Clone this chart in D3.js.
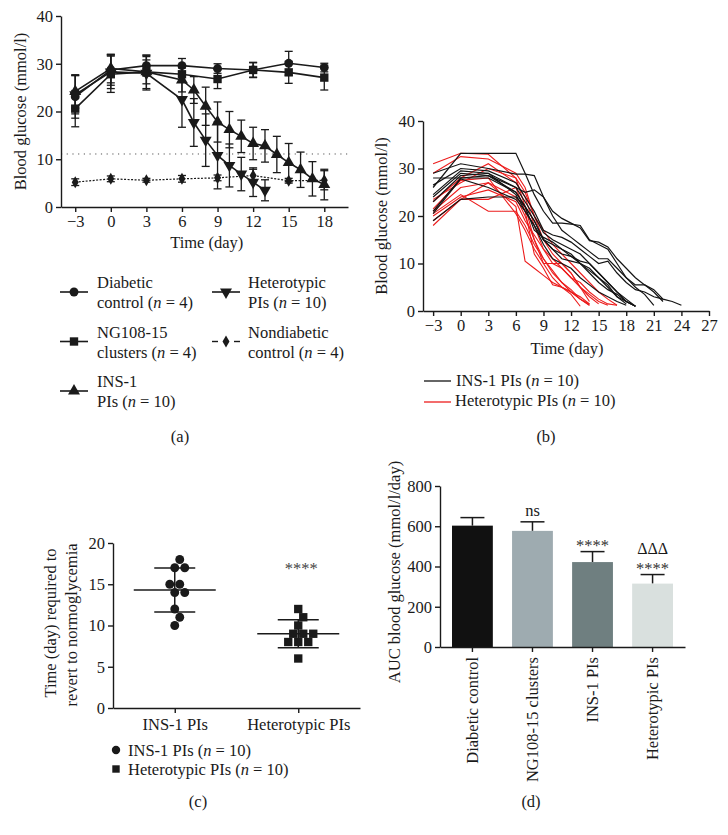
<!DOCTYPE html>
<html><head><meta charset="utf-8">
<script src="https://cdn.jsdelivr.net/npm/d3@7"></script>
<style>
body{margin:0;background:#fff;}
svg{display:block;font-family:"Liberation Serif","Times New Roman",serif;}
</style></head><body>
<svg id="fig" width="728" height="835"></svg>
<script>
// ---------------- DATA ----------------
// Panel (a): mean ± SD blood glucose
const daysCtrl = [-3, 0, 3, 6, 9, 12, 15, 18];
const diabeticMean = [23.1, 28.7, 29.6, 29.6, 29.0, 28.7, 30.1, 29.2];
const diabeticSD   = [4.5, 3.2, 2.2, 1.5, 1.0, 1.5, 2.5, 0.9];
const ngMean = [20.6, 27.8, 28.3, 27.8, 26.8, 28.7, 28.2, 27.1];
const ngSD   = [3.8, 3.8, 3.5, 1.5, 2.0, 1.6, 2.3, 2.6];
const nondiabeticMean = [5.2, 5.9, 5.6, 5.9, 6.1, 6.6, 5.5, 5.6];
const nondiabeticSD   = [0.7, 0.6, 0.4, 0.7, 0.6, 1.3, 0.5, 2.0];
const daysIns = [-3, 0, 3, 6, 7, 8, 9, 10, 11, 12, 13, 14, 15, 16, 17, 18];
const insMean = [24.2, 29.0, 28.3, 26.6, 24.5, 21.1, 17.8, 16.2, 14.8, 13.3, 12.8, 11.0, 9.3, 7.8, 5.9, 4.7];
const insSD   = [3.5, 3.0, 2.5, 2.5, 2.8, 4.0, 4.2, 3.8, 3.4, 3.4, 3.4, 3.8, 4.0, 3.7, 3.6, 3.2];
const daysHet = [-3, 0, 3, 6, 7, 8, 9, 10, 11, 12, 13];
const hetMean = [23.5, 28.3, 28.0, 22.5, 17.7, 14.0, 10.8, 8.7, 6.9, 5.2, 3.5];
const hetSD   = [4.0, 3.5, 3.5, 5.8, 5.0, 5.5, 7.0, 4.5, 3.5, 3.0, 2.2];
const normoThreshold = 11.1;
const xTicksA = [-3, 0, 3, 6, 9, 12, 15, 18];
const yTicksA = [0, 10, 20, 30, 40];

// Panel (b): individual animals (values on dayGridB, truncated when finished)
const dayGridB = [-3, 0, 3, 6, 7, 8, 9, 10, 11, 12, 13, 14, 15, 16, 17, 18, 19, 20, 21, 22, 23, 24];
const insIndividuals = [
  [26, 33.2, 33.2, 33.2, 29, 24.5, 21, 18.5, 18.5, 18.3, 18, 15, 14, 13, 10, 7, 5, 3.5, 1.2],
  [29, 31, 30, 28.8, 28.8, 28.5, 24, 21, 19.5, 18.5, 17.5, 14.8, 14.5, 13.5, 11, 9, 7, 5.5, 4.5, 2.5, 2, 1.2],
  [28, 28, 28.5, 26, 25, 25.5, 24, 20, 17, 15.5, 14, 12.5, 11, 11, 9, 7, 5.5, 5.5, 4, 2],
  [26.5, 30, 29.5, 27, 24, 21, 17, 16, 15.5, 14.5, 13, 11.5, 10, 10.5, 8, 6, 4.5, 4, 3, 2.5],
  [24.5, 29.5, 29, 26, 23, 20, 16.5, 15, 14, 13, 12, 10, 8, 6, 4, 2.5, 1],
  [24, 29, 28.5, 25, 22, 19, 15, 14, 13, 11.5, 10.5, 10, 8, 6, 4, 2, 1],
  [23, 28.5, 29, 24.5, 21, 18, 15, 13, 11, 10.5, 10, 9, 7, 5.5, 3, 1.5],
  [21, 28, 28, 25, 22, 17, 15.5, 14.5, 13, 12, 10, 8, 6, 4.5, 3.5, 2, 1],
  [20.5, 27.8, 26, 23.5, 21, 18, 14, 11, 10, 9, 7, 5.5, 4, 3, 2, 1.2],
  [19, 23.5, 24, 24, 22, 19, 15, 13, 12, 11.5, 10, 8.5, 7, 5, 3, 2, 1]
];
const hetIndividuals = [
  [31, 33.2, 33, 28, 22, 15, 11, 8, 6, 4, 3, 1.5],
  [29, 32.5, 32, 29, 26, 20, 15, 12, 10, 8, 5, 3.5, 2, 1.2],
  [23, 28, 31, 27, 24, 18, 13, 10, 9, 7, 6, 4, 2.5, 1.5, 1.2],
  [21.5, 27.5, 28, 20.5, 17, 13, 10, 10, 10, 8, 5, 2],
  [21, 26, 27, 22, 10.5, 9, 7.5, 6, 5, 3.5, 1],
  [20.5, 24.5, 21, 21, 18, 14, 11, 8.5, 6, 4.5, 2.5, 1.2],
  [20, 24, 25.5, 23, 19, 16, 13, 11, 9, 7, 5, 3, 1.5],
  [19, 23.5, 27, 24, 20, 15, 10, 7, 5, 4, 2.5, 1.2],
  [18, 23.5, 23.5, 26, 21, 12, 9, 5.5, 5, 4, 2.5, 1.5],
  [23.5, 27, 30, 28, 25, 20, 17, 14, 12, 10, 8, 6, 4, 2.5, 1.2]
];
const xTicksB = [-3, 0, 3, 6, 9, 12, 15, 18, 21, 24, 27];
const yTicksB = [0, 10, 20, 30, 40];

// Panel (c): days to normoglycemia
const groupsC = ["INS-1 PIs", "Heterotypic PIs"];
const insDays = [10, 11, 12, 14, 14, 15, 15, 17, 17, 18];
const hetDays = [6, 8, 8, 8, 9, 9, 9, 10, 11, 12];
const yTicksC = [0, 5, 10, 15, 20];

// Panel (d): AUC
const groupsD = ["Diabetic control", "NG108-15 clusters", "INS-1 PIs", "Heterotypic PIs"];
const aucMean = [603, 577, 422, 315];
const aucSD = [40, 45, 52, 45];
const aucColors = ["#111111", "#9eabb0", "#6f7f80", "#d9e0de"];
const sigLabels = ["", "ns", "****", "****"];
const deltaLabels = ["", "", "", "ΔΔΔ"];
const yTicksD = [0, 200, 400, 600, 800];

// ---------------- DRAW ----------------
const FF = '"Liberation Serif","Times New Roman",serif';
const FS = 16.5;
const INK = "#1a1a1a";
const svg = d3.select("#fig");

function styleAxis(g) {
  g.attr("font-family", FF).attr("font-size", FS);
  g.selectAll("path,line").attr("stroke", INK).attr("stroke-width", 1.4);
  g.selectAll("text").attr("fill", INK);
}
function richText(sel, str) {
  const i = str.indexOf("(n");
  if (i < 0) { sel.text(str); return; }
  sel.append("tspan").text(str.slice(0, i + 1));
  sel.append("tspan").attr("font-style", "italic").text("n");
  sel.append("tspan").text(str.slice(i + 2));
}
function addText(x, y, str, opts = {}) {
  const t = svg.append("text").attr("x", x).attr("y", y)
    .attr("font-family", FF).attr("font-size", opts.fs || FS).attr("fill", opts.fill || INK)
    .attr("text-anchor", opts.anchor || "start");
  if (opts.rotate) t.attr("transform", `rotate(-90,${x},${y})`);
  richText(t, str);
  return t;
}

// ===== Panel (a) =====
const xA = d3.scaleLinear().domain([-4.2, 20]).range([61, 348]);
const yA = d3.scaleLinear().domain([0, 40]).range([207, 16]);
svg.append("line").attr("x1", xA.range()[0]).attr("x2", xA.range()[1])
  .attr("y1", yA(normoThreshold)).attr("y2", yA(normoThreshold))
  .attr("stroke", "#555").attr("stroke-width", 1).attr("stroke-dasharray", "1.2,4.5");
svg.append("g").attr("transform", "translate(0,207)")
  .call(d3.axisBottom(xA).tickValues(xTicksA).tickSize(5).tickSizeOuter(0).tickPadding(3)).call(styleAxis);
svg.append("g").attr("transform", "translate(61,0)")
  .call(d3.axisLeft(yA).tickValues(yTicksA).tickSize(5).tickSizeOuter(0).tickPadding(3)).call(styleAxis);
addText(26, (yA(0) + yA(40)) / 2, "Blood glucose (mmol/l)", { anchor: "middle", rotate: true });
addText((xA(-3) + xA(18)) / 2 + 7, 248, "Time (day)", { anchor: "middle" });

const symCircle = d3.symbol().type(d3.symbolCircle).size(62)();
const symSquare = d3.symbol().type(d3.symbolSquare).size(70)();
const symTri = d3.symbol().type(d3.symbolTriangle).size(62)();
const symDiamond = d3.symbol().type(d3.symbolDiamond).size(42)();

function drawSeriesA(days, mean, sd, sym, rot, dashed) {
  const pts = days.map((d, i) => ({ d, v: mean[i], s: sd[i] }));
  const g = svg.append("g");
  const cap = 4;
  pts.forEach(p => {
    const x = xA(p.d), y1 = yA(p.v - p.s), y2 = yA(p.v + p.s);
    g.append("line").attr("x1", x).attr("x2", x).attr("y1", y1).attr("y2", y2).attr("stroke", INK).attr("stroke-width", 1.3);
    [y1, y2].forEach(y => g.append("line").attr("x1", x - cap).attr("x2", x + cap).attr("y1", y).attr("y2", y).attr("stroke", INK).attr("stroke-width", 1.3));
  });
  g.append("path").datum(pts)
    .attr("d", d3.line().x(p => xA(p.d)).y(p => yA(p.v)))
    .attr("fill", "none").attr("stroke", INK).attr("stroke-width", dashed ? 1.2 : 1.6)
    .attr("stroke-dasharray", dashed ? "2,1.5" : null);
  g.selectAll("path.m").data(pts).join("path").attr("class", "m")
    .attr("d", sym).attr("fill", INK)
    .attr("transform", p => `translate(${xA(p.d)},${yA(p.v)}) rotate(${rot})`);
}
drawSeriesA(daysCtrl, nondiabeticMean, nondiabeticSD, symDiamond, 0, true);
drawSeriesA(daysCtrl, ngMean, ngSD, symSquare, 0, false);
drawSeriesA(daysCtrl, diabeticMean, diabeticSD, symCircle, 0, false);
drawSeriesA(daysIns, insMean, insSD, symTri, 0, false);
drawSeriesA(daysHet, hetMean, hetSD, symTri, 180, false);

// legend (a)
const legendA = [
  { l1: "Diabetic", l2: "control (n = 4)", sym: symCircle, rot: 0, dash: false },
  { l1: "NG108-15", l2: "clusters (n = 4)", sym: symSquare, rot: 0, dash: false },
  { l1: "INS-1", l2: "PIs (n = 10)", sym: symTri, rot: 0, dash: false },
  { l1: "Heterotypic", l2: "PIs (n = 10)", sym: symTri, rot: 180, dash: false },
  { l1: "Nondiabetic", l2: "control (n = 4)", sym: symDiamond, rot: 0, dash: true }
];
legendA.forEach((e, i) => {
  const col = i < 3 ? 0 : 1, row = i < 3 ? i : i - 3;
  const mx = col === 0 ? 74 : 226, my = 292 + row * 49.5;
  const tx = col === 0 ? 97 : 248;
  if (e.dash) {
    svg.append("line").attr("x1", mx - 14).attr("x2", mx - 8).attr("y1", my).attr("y2", my).attr("stroke", INK).attr("stroke-width", 1.4);
    svg.append("line").attr("x1", mx + 8).attr("x2", mx + 14).attr("y1", my).attr("y2", my).attr("stroke", INK).attr("stroke-width", 1.4);
  } else {
    svg.append("line").attr("x1", mx - 14).attr("x2", mx + 14).attr("y1", my).attr("y2", my).attr("stroke", INK).attr("stroke-width", 1.6);
  }
  svg.append("path").attr("d", e.sym).attr("fill", INK).attr("transform", `translate(${mx},${my}) rotate(${e.rot})`);
  addText(tx, my - 4, e.l1);
  addText(tx, my + 16, e.l2);
});
addText(180, 442, "(a)", { anchor: "middle" });

// ===== Panel (b) =====
const xB = d3.scaleLinear().domain([-4.1, 27]).range([423, 709]);
const yB = d3.scaleLinear().domain([0, 40]).range([311, 121]);
const lineB = d3.line().x((v, i) => xB(dayGridB[i])).y(v => yB(v));
svg.append("g").selectAll("path").data(hetIndividuals).join("path")
  .attr("d", lineB).attr("fill", "none").attr("stroke", "#ec1c1c").attr("stroke-width", 1.1);
svg.append("g").selectAll("path").data(insIndividuals).join("path")
  .attr("d", lineB).attr("fill", "none").attr("stroke", "#141414").attr("stroke-width", 1.2);
svg.append("g").attr("transform", "translate(0,311)")
  .call(d3.axisBottom(xB).tickValues(xTicksB).tickSize(5).tickSizeOuter(0).tickPadding(3)).call(styleAxis);
svg.append("g").attr("transform", "translate(423,0)")
  .call(d3.axisLeft(yB).tickValues(yTicksB).tickSize(5).tickSizeOuter(0).tickPadding(3)).call(styleAxis);
addText(387, (yB(0) + yB(40)) / 2, "Blood glucose (mmol/l)", { anchor: "middle", rotate: true });
addText(567, 354, "Time (day)", { anchor: "middle" });
svg.append("line").attr("x1", 424).attr("x2", 451).attr("y1", 381).attr("y2", 381).attr("stroke", "#141414").attr("stroke-width", 1.3);
addText(456, 386, "INS-1 PIs (n = 10)");
svg.append("line").attr("x1", 424).attr("x2", 451).attr("y1", 402).attr("y2", 402).attr("stroke", "#ec1c1c").attr("stroke-width", 1.3);
addText(455, 406, "Heterotypic PIs (n = 10)");
addText(546, 442, "(b)", { anchor: "middle" });

// ===== Panel (c) =====
const xC = d3.scalePoint().domain(groupsC).range([113, 360]).padding(0.5);
const yC = d3.scaleLinear().domain([0, 20]).range([708, 543]);
svg.append("g").attr("transform", "translate(0,708)")
  .call(d3.axisBottom(xC).tickSize(5).tickSizeOuter(0).tickPadding(5)).call(styleAxis);
svg.append("g").attr("transform", "translate(113,0)")
  .call(d3.axisLeft(yC).tickValues(yTicksC).tickSize(5).tickSizeOuter(0).tickPadding(3)).call(styleAxis);
addText(56, 623, "Time (day) required to", { anchor: "middle", rotate: true });
addText(77, 625, "revert to normoglycemia", { anchor: "middle", rotate: true });

// greedy beeswarm placement (pixel offsets computed from the scale)
function swarm(vals, yScale, minDist) {
  const placed = [];
  const cands = [0, 5, -5, 10, -10, 15, -15, 20, -20, 25, -25, 30, -30];
  return vals.slice().sort((a, b) => a - b).map(v => {
    const y = yScale(v);
    const off = cands.find(o => placed.every(p => Math.hypot(p.off - o, p.y - y) >= minDist));
    const pt = { v, y, off };
    placed.push(pt);
    return pt;
  });
}
[[insDays, symCircle], [hetDays, symSquare]].forEach(([vals, sym], gi) => {
  const cx = xC(groupsC[gi]);
  const m = d3.mean(vals), s = d3.deviation(vals);
  const g = svg.append("g");
  g.selectAll("path").data(swarm(vals, yC, 9.5)).join("path")
    .attr("d", sym).attr("fill", INK)
    .attr("transform", p => `translate(${cx + p.off},${p.y})`);
  const ln = (x1, x2, y1, y2) => g.append("line").attr("x1", x1).attr("x2", x2).attr("y1", y1).attr("y2", y2).attr("stroke", INK).attr("stroke-width", 1.5);
  ln(cx - 41, cx + 41, yC(m), yC(m));
  ln(cx - 20.5, cx + 20.5, yC(m + s), yC(m + s));
  ln(cx - 20.5, cx + 20.5, yC(m - s), yC(m - s));
  ln(cx, cx, yC(m - s), yC(m + s));
});
addText(xC(groupsC[1]) + 3, yC(16.2), "****", { anchor: "middle", fill: "#444" });
svg.append("path").attr("d", d3.symbol().type(d3.symbolCircle).size(55)()).attr("fill", INK).attr("transform", "translate(116,750)");
addText(128, 756, "INS-1 PIs (n = 10)");
svg.append("path").attr("d", d3.symbol().type(d3.symbolSquare).size(55)()).attr("fill", INK).attr("transform", "translate(116,769)");
addText(128, 775, "Heterotypic PIs (n = 10)");
addText(198, 807, "(c)", { anchor: "middle" });

// ===== Panel (d) =====
const xD = d3.scaleBand().domain(groupsD).range([440, 685]).paddingInner(0.32).paddingOuter(0.2);
const yD = d3.scaleLinear().domain([0, 800]).range([647, 486]);
const gD = svg.append("g");
groupsD.forEach((c, i) => {
  const x = xD(c), w = xD.bandwidth(), cx = x + w / 2;
  const top = yD(aucMean[i] + aucSD[i]);
  gD.append("line").attr("x1", cx).attr("x2", cx).attr("y1", yD(aucMean[i])).attr("y2", top).attr("stroke", INK).attr("stroke-width", 1.5);
  gD.append("line").attr("x1", cx - 12).attr("x2", cx + 12).attr("y1", top).attr("y2", top).attr("stroke", INK).attr("stroke-width", 1.5);
  gD.append("rect").attr("x", x).attr("y", yD(aucMean[i])).attr("width", w).attr("height", yD(0) - yD(aucMean[i]))
    .attr("fill", aucColors[i]);
  if (sigLabels[i] === "ns") addText(cx, top - 6, "ns", { anchor: "middle" });
  else if (sigLabels[i]) addText(cx, top - 1, sigLabels[i], { anchor: "middle", fill: "#333" });
  if (deltaLabels[i]) addText(cx, top - 21, deltaLabels[i], { anchor: "middle", fs: 16 });
});
svg.append("g").attr("transform", "translate(0,647)")
  .call(d3.axisBottom(xD).tickSize(5).tickSizeOuter(0).tickFormat(() => "")).call(styleAxis);
svg.append("g").attr("transform", "translate(440,0)")
  .call(d3.axisLeft(yD).tickValues(yTicksD).tickSize(5).tickSizeOuter(0).tickPadding(3)).call(styleAxis);
groupsD.forEach(c => {
  const cx = xD(c) + xD.bandwidth() / 2;
  svg.append("text").attr("transform", `translate(${cx},657) rotate(-90)`)
    .attr("text-anchor", "end").attr("dy", "0.33em")
    .attr("font-family", FF).attr("font-size", FS).attr("fill", INK).text(c);
});
addText(400, 572, "AUC blood glucose (mmol/l/day)", { anchor: "middle", rotate: true });
addText(531, 807, "(d)", { anchor: "middle" });
</script>
</body></html>
